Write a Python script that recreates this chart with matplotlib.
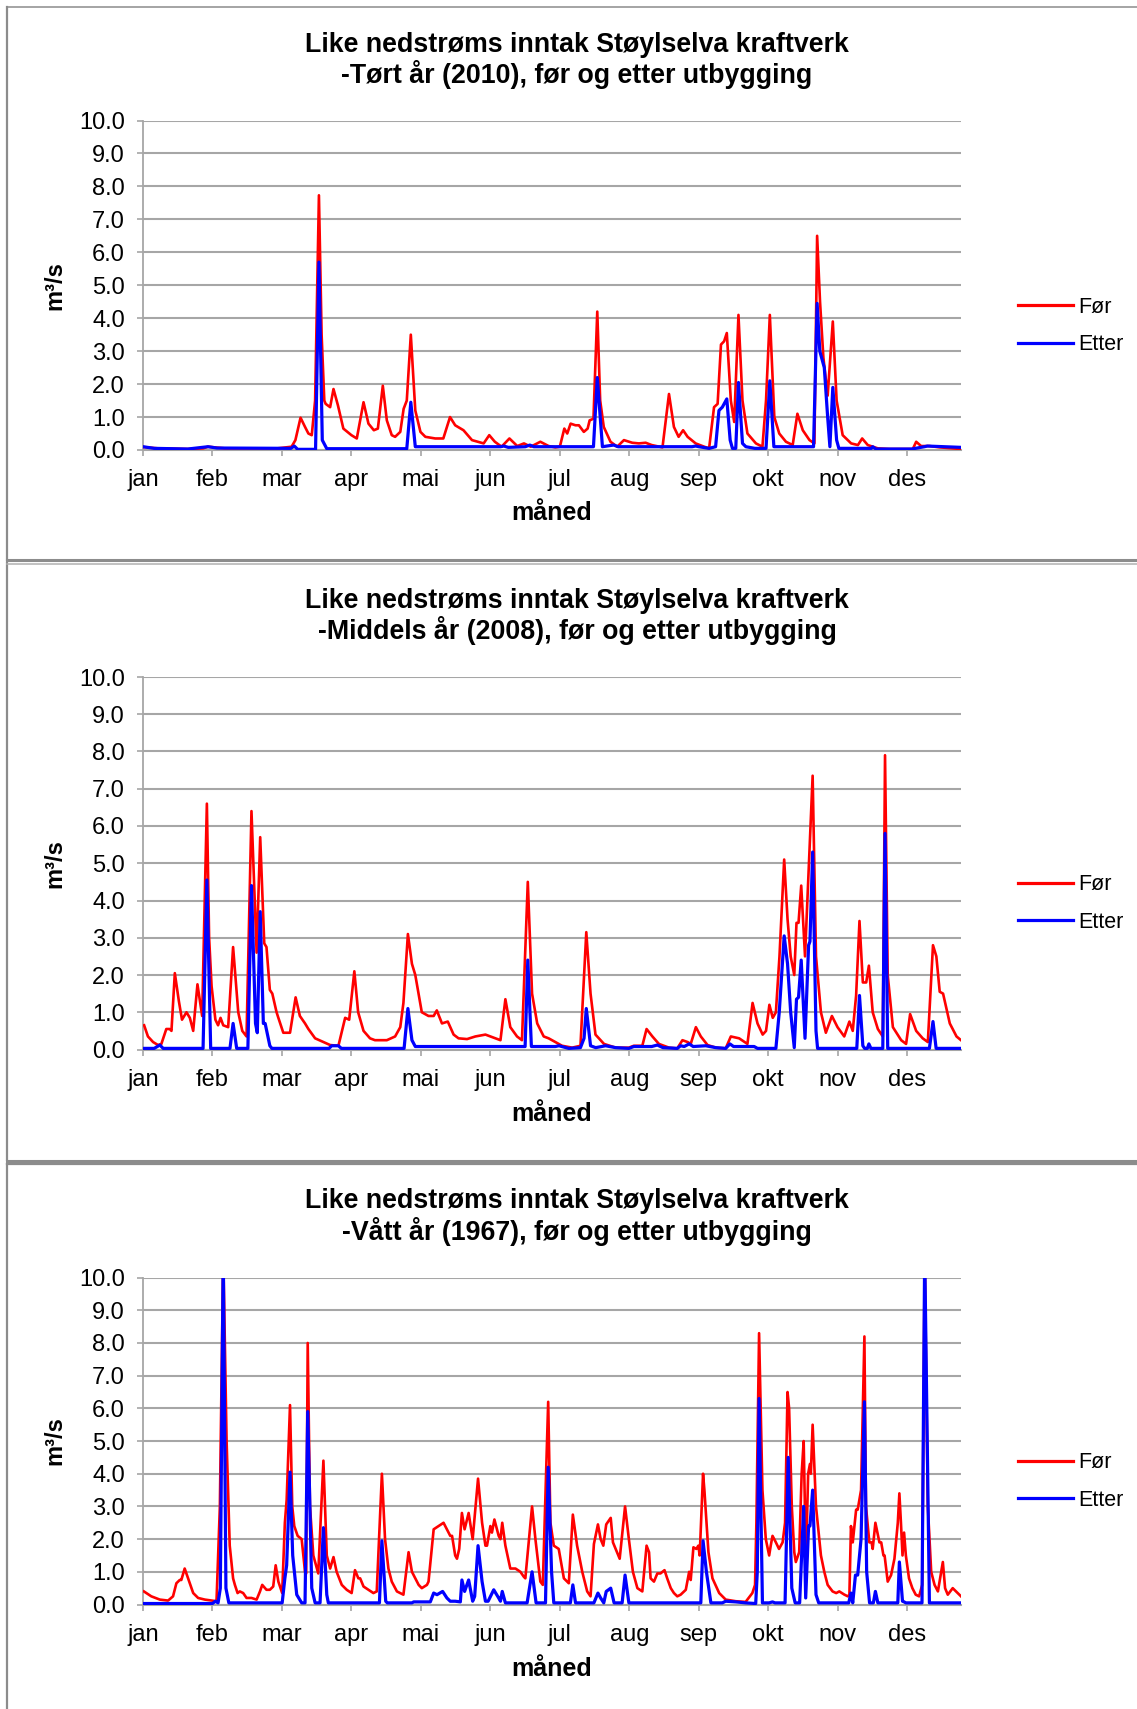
import matplotlib
matplotlib.use("Agg")
import matplotlib.pyplot as plt
from matplotlib.lines import Line2D

plt.rcParams['font.family'] = ['Liberation Sans', 'DejaVu Sans']

# ---------------- data ----------------
months = ['jan', 'feb', 'mar', 'apr', 'mai', 'jun', 'jul', 'aug', 'sep', 'okt', 'nov', 'des']
month_ticks = [0, 31, 62, 93, 124, 155, 186, 217, 248, 279, 310, 341]

titles = [
    "Like nedstrøms inntak Støylselva kraftverk\n-Tørt år (2010), før og etter utbygging",
    "Like nedstrøms inntak Støylselva kraftverk\n-Middels år (2008), før og etter utbygging",
    "Like nedstrøms inntak Støylselva kraftverk\n-Vått år (1967), før og etter utbygging",
]
series_names = ['Før', 'Etter']

# Dry year 2010 - before (day position, m3/s)
dry_for_x = [0, 6.7, 20, 26.8, 29, 32, 36.5, 60, 66.3, 68, 70.3, 72.3, 73.8, 75.3, 76.8, 78.5, 79.7, 80.9,
             81.5, 83.5, 85, 87, 89.4, 93, 95.4, 98.4, 100.6, 103, 104.8, 107, 108.8, 111, 112.5, 114.8,
             116.3, 117.7, 119.5, 121.5, 123.8, 126, 130.4, 134, 137, 139.3, 143, 146.8, 152, 154.5, 157,
             160, 163.5, 167, 170, 173, 177.3, 181, 184, 186, 188, 189.3, 190.8, 193, 194.5, 196.7, 198.4,
             199.3, 201, 202.7, 204, 205.6, 208.6, 211.6, 214.6, 218.3, 221.3, 224.3, 227, 231.8, 234.7,
             236.9, 239, 241, 243, 246.6, 250.4, 252.6, 254.8, 256.4, 257.9, 259.3, 260.5, 262.3, 263.8,
             265.7, 267.5, 269.7, 273.5, 276.4, 278, 279.7, 281.7, 283.9, 286.9, 289.9, 292, 294.4, 297.4,
             299.6, 300.8, 302.1, 303.6, 305.5, 307.8, 309.5, 312.2, 316, 319, 320.9, 323.4, 327.9, 333,
             343.5, 345, 347.2, 351, 355.5, 365]
dry_for_y = [0.09, 0.05, 0.03, 0.05, 0.1, 0.08, 0.05, 0.05, 0.1, 0.3, 0.98, 0.7, 0.5, 0.45, 1.5, 7.73, 3.5, 1.5,
             1.4, 1.3, 1.85, 1.35, 0.65, 0.45, 0.35, 1.45, 0.8, 0.6, 0.65, 1.95, 0.9, 0.45, 0.4, 0.55,
             1.25, 1.5, 3.5, 1.2, 0.55, 0.4, 0.35, 0.35, 1.0, 0.75, 0.6, 0.3, 0.2, 0.45, 0.25,
             0.1, 0.35, 0.12, 0.2, 0.1, 0.25, 0.12, 0.08, 0.1, 0.65, 0.5, 0.8, 0.75, 0.75, 0.55, 0.65,
             0.9, 0.95, 4.2, 1.5, 0.7, 0.25, 0.1, 0.3, 0.22, 0.2, 0.22, 0.15, 0.08, 1.7,
             0.7, 0.4, 0.6, 0.4, 0.2, 0.1, 0.05, 1.3, 1.4, 3.2, 3.3, 3.55, 1.5, 0.85,
             4.1, 1.5, 0.5, 0.2, 0.1, 1.5, 4.1, 1.0, 0.5, 0.25, 0.15, 1.1, 0.6, 0.3,
             0.2, 6.5, 4.5, 2.8, 1.65, 3.9, 1.5, 0.45, 0.2, 0.15, 0.35, 0.15, 0.05, 0.03,
             0.03, 0.25, 0.12, 0.12, 0.08, 0.03]

# Dry year 2010 - after
dry_etter_x = [0, 5, 20, 29, 33, 66, 67.5, 69, 77, 78.5, 80, 82, 117.7, 119.5, 121.5, 159.5, 161, 163, 170.6,
               172.6, 174.4, 201, 202.7, 205, 210, 212, 245, 246.6, 248, 252.6, 255.5, 257, 258.5, 260.5,
               262, 263, 264.5, 265.7, 267.5, 269, 273, 278, 279.7, 281.5, 299.2, 300.8, 302, 304, 305.5,
               306.5, 307.8, 309.5, 310.5, 325, 325.6, 327, 343, 348.7, 350, 365]
dry_etter_y = [0.1, 0.05, 0.03, 0.1, 0.06, 0.05, 0.12, 0.02, 0.02, 5.7, 0.3, 0.04, 0.04, 1.45, 0.1, 0.1, 0.12, 0.08, 0.1,
               0.15, 0.1, 0.1, 2.2, 0.1, 0.15, 0.1, 0.1, 0.12, 0.1, 0.05, 0.1, 1.2, 1.3, 1.55,
               0.3, 0.05, 0.05, 2.05, 0.2, 0.1, 0.05, 0.05, 2.1, 0.1, 0.1, 4.45, 3.0, 2.5, 1.0,
               0.1, 1.9, 0.3, 0.05, 0.05, 0.1, 0.03, 0.03, 0.1, 0.12, 0.08]

# Middle year 2008 - before
mid_for_x = [0.5, 2.2, 4.5, 6.7, 8.2, 10.4, 11.9, 12.7, 14.2, 16, 17.4, 19.4, 20.9, 22.4, 24.3, 26.4, 28.5, 29.5,
             30.6, 32.3, 33.5, 34.6, 35.8, 38, 40.2, 42.5, 44.3, 46.2, 48.4, 50.7, 52.3, 54.1, 55.1, 56.6,
             57.7, 59.6, 60.4, 62.6, 65.6, 68.1, 70, 72.3, 73.8, 76.8, 80.5, 83.5, 87.2, 90.2, 92, 94.3, 96,
             98.4, 101.3, 103.5, 105.8, 108.8, 112.5, 114.8, 116.2, 118.2, 120, 121.5, 124.4, 127.4, 129.7,
             131.1, 133.4, 136, 138.6, 140.8, 144.6, 148.3, 152.8, 157.2, 159.5, 161.7, 163.9, 166.9, 169.1,
             171.7, 173.6, 175.9, 178.8, 181, 184, 187, 191.5, 195.2, 197.8, 199.7, 201.9, 205.7, 210.9,
             216.8, 219, 222.8, 224.7, 227.3, 230.2, 234.7, 238.4, 240.7, 243, 244.4, 246.7, 248.9, 251.9,
             255.6, 260, 262.3, 266, 269.7, 272, 274.2, 276.5, 278, 279.5, 281, 282.4, 284, 286.1, 287.6,
             289, 290.6, 291.6, 292.5, 293.7, 295.4, 297, 298.8, 300.3, 302.5, 304.7, 307.4, 309.9, 312.9,
             315.2, 316.7, 318.2, 319.7, 321.2, 322.7, 323.9, 325.6, 327.9, 330.1, 331.1, 332.3, 334.6,
             338.3, 340.5, 342.3, 345, 347.9, 350.2, 352.5, 354, 355.5, 357, 360, 363, 365]
mid_for_y = [0.65, 0.35, 0.2, 0.12, 0.15, 0.55, 0.55, 0.5, 2.05, 1.3, 0.8, 1.0, 0.85, 0.5, 1.75, 0.9, 6.6, 3.0,
             1.7, 0.8, 0.65, 0.85, 0.65, 0.6, 2.75, 1.0, 0.5, 0.35, 6.4, 2.6, 5.7, 2.85, 2.75, 1.6,
             1.5, 1.0, 0.85, 0.45, 0.45, 1.4, 0.9, 0.7, 0.55, 0.3, 0.2, 0.12, 0.1, 0.85, 0.8, 2.1, 1.0,
             0.5, 0.3, 0.25, 0.25, 0.25, 0.35, 0.6, 1.25, 3.1, 2.3, 2.0, 1.0, 0.9, 0.9,
             1.05, 0.7, 0.75, 0.4, 0.3, 0.28, 0.35, 0.4, 0.3, 0.25, 1.35, 0.6, 0.35, 0.25,
             4.5, 1.5, 0.7, 0.35, 0.3, 0.2, 0.1, 0.05, 0.1, 3.15, 1.5, 0.4, 0.15, 0.05,
             0.05, 0.1, 0.1, 0.55, 0.35, 0.15, 0.05, 0.03, 0.25, 0.2, 0.15, 0.6, 0.35, 0.12,
             0.05, 0.03, 0.35, 0.3, 0.15, 1.25, 0.7, 0.4, 0.5, 1.2, 0.85, 1.0, 2.5, 5.1, 3.5,
             2.5, 2.0, 3.4, 3.4, 4.4, 2.5, 4.8, 7.35, 2.5, 1.0, 0.45, 0.9, 0.6, 0.35,
             0.75, 0.5, 1.45, 3.45, 1.8, 1.8, 2.25, 1.0, 0.55, 0.35, 7.9, 2.0, 0.6,
             0.25, 0.15, 0.95, 0.5, 0.3, 0.2, 2.8, 2.5, 1.55, 1.5, 0.7, 0.35, 0.25]

# Middle year 2008 - after
mid_etter_x = [0, 5, 7.5, 9, 26.8, 28.5, 30.2, 38.8, 40.2, 41.8, 46.8, 48.4, 50.2, 51, 52.3, 53.7, 54.5, 56.6,
               57.5, 83, 84.2, 87.2, 88.5, 116.5, 118.2, 120, 121.5, 170.5, 171.7, 173.3, 184, 185.6, 190,
               195.2, 196.8, 197.8, 199.7, 202, 206.4, 210.9, 216.8, 219, 227, 229.5, 232, 238.4, 239.9,
               241.5, 243.7, 245.5, 251.1, 255.6, 260, 261.9, 263.5, 272.7, 274.2, 282.4, 283.9, 286.1,
               287.6, 289, 290.6, 291.6, 292.5, 293.7, 295.4, 297, 297.6, 298.8, 300.3, 301, 318.5, 319.7,
               321.2, 322, 323.2, 323.9, 324.8, 330.1, 331.1, 332.3, 350.9, 352.5, 353.9, 365]
mid_etter_y = [0.03, 0.03, 0.12, 0.03, 0.03, 4.55, 0.03, 0.03, 0.7, 0.03, 0.03, 4.4, 0.7, 0.45, 3.7, 0.7, 0.7, 0.1,
               0.03, 0.03, 0.1, 0.1, 0.03, 0.03, 1.1, 0.25, 0.08, 0.08, 2.4, 0.08, 0.08, 0.1, 0.03,
               0.05, 0.3, 1.1, 0.1, 0.05, 0.1, 0.05, 0.03, 0.08, 0.08, 0.12, 0.05, 0.03, 0.1,
               0.08, 0.15, 0.08, 0.1, 0.05, 0.03, 0.15, 0.08, 0.08, 0.03, 0.03, 1.0, 3.05,
               2.3, 1.0, 0.05, 1.35, 1.4, 2.4, 0.3, 2.8, 2.9, 5.3, 0.5, 0.03, 0.03, 1.45,
               0.1, 0.03, 0.03, 0.15, 0.03, 0.03, 5.8, 0.03, 0.03, 0.75, 0.03, 0.03]

# Wet year 1967 - before (tops at 10.8 are cut off by the axis)
wet_for_x = [0.4, 3.7, 7.5, 11.2, 13.4, 14.9, 16.4, 17.1, 18.6, 20.1, 22.4, 24.6, 27.6, 32.8, 34.3, 35.8, 37.3,
             38.7, 40.2, 41, 42.2, 43.2, 44.7, 46.2, 48.4, 50.7, 52.2, 53.2, 55.1, 56.6, 58.1, 59.2, 60.4,
             62.1, 63.3, 64.1, 65.6, 66.6, 67.5, 69, 70.8, 72.3, 72.8, 73.5, 74.5, 76, 78.2, 80.5, 82, 83.5,
             85, 86.4, 88.7, 90.9, 93.1, 94.6, 96.1, 96.9, 98.4, 100.6, 102.8, 104.3, 106.6, 108, 109.5, 111,
             113.3, 116.2, 118.5, 120, 121.5, 123, 124.4, 126.7, 127.4, 129.7, 131.9, 134.1, 135.6, 137.1,
             137.9, 139.3, 140.1, 141.1, 142.3, 143.5, 145.3, 147.1, 149.5, 151.3, 152.8, 153.5, 155, 155.7,
             156.8, 158.7, 159.5, 160.3, 161.7, 163.9, 166.2, 168.4, 169.9, 170.6, 173.6, 175.1, 177.3,
             178.4, 180.8, 181.8, 183.3, 185.5, 187.8, 190, 191.8, 193.7, 196, 198.2, 199.7, 201.2, 203,
             204.2, 205.4, 206.7, 208.7, 209.7, 210.9, 212.7, 213.9, 215.1, 216.8, 218.6, 220.6, 222.8,
             224.7, 225.8, 226.5, 228, 229.5, 230.9, 232.7, 233.9, 235.5, 236.9, 238.4, 239.9, 242.2, 243.7,
             244.4, 245.6, 246.9, 247.8, 248.4, 249.9, 250.5, 252.3, 254.1, 257.1, 260, 264.5, 268.9, 271.9,
             273.1, 273.7, 274.9, 276.4, 277.9, 279.4, 280.1, 280.9, 282.4, 283.8, 285.4, 286.5, 287.6,
             288.3, 289.5, 290.6, 291.3, 292.8, 293.9, 294.8, 295.8, 296.8, 297.6, 298, 298.8, 300.3, 302.5,
             304, 305.5, 307.7, 309.3, 310.7, 313, 314.5, 315.2, 315.9, 316.7, 318.2, 318.9, 320.4, 321.9,
             322.6, 324.1, 325.1, 325.6, 326.8, 328.6, 329.4, 330.4, 330.9, 332.3, 333.8, 335.3, 336.8,
             337.5, 338.2, 338.9, 339.6, 340.4, 341.8, 343.3, 344.8, 346.3, 347.7, 348.8, 350.2, 351.7,
             353.2, 354.7, 356.9, 357.9, 359.1, 361.3, 362.8, 365]
wet_for_y = [0.4, 0.25, 0.15, 0.12, 0.25, 0.65, 0.75, 0.75, 1.1, 0.8, 0.35, 0.2, 0.15, 0.1, 3.0, 10.8, 5.0,
             1.8, 0.8, 0.6, 0.35, 0.4, 0.35, 0.2, 0.2, 0.15, 0.4, 0.6, 0.45, 0.45, 0.55, 1.2, 0.7,
             0.35, 2.5, 3.2, 6.1, 3.0, 2.4, 2.1, 2.0, 1.0, 0.95, 8.0, 3.0, 1.5, 0.95, 4.4, 1.5, 1.1,
             1.45, 1.0, 0.6, 0.45, 0.35, 1.05, 0.8, 0.8, 0.55, 0.45, 0.35, 0.4, 4.0, 2.0, 1.1, 0.7,
             0.4, 0.3, 1.6, 1.0, 0.8, 0.6, 0.5, 0.6, 0.7, 2.3, 2.4, 2.5, 2.3, 2.1,
             2.1, 1.5, 1.4, 1.7, 2.8, 2.3, 2.8, 2.0, 3.85, 2.5, 1.8, 1.8, 2.4, 2.2,
             2.6, 2.1, 2.0, 2.5, 1.8, 1.1, 1.1, 1.0, 0.85, 0.8, 3.0, 2.0, 0.7,
             0.6, 6.2, 2.5, 1.8, 1.7, 0.8, 0.65, 2.75, 1.8, 1.0, 0.4, 0.25, 1.85, 2.45,
             2.0, 1.8, 2.45, 2.65, 1.9, 1.7, 1.4, 2.2, 3.0, 2.0, 1.0, 0.5, 0.4,
             1.8, 1.6, 0.8, 0.7, 0.95, 0.95, 1.05, 0.8, 0.5, 0.35, 0.25, 0.3, 0.45, 1.0,
             0.75, 1.75, 1.7, 1.8, 1.5, 4.0, 3.5, 1.6, 0.8, 0.35, 0.15, 0.1, 0.08, 0.35,
             0.6, 2.5, 8.3, 3.5, 2.0, 1.5, 1.8, 2.1, 1.9, 1.7, 1.9, 2.5, 6.5,
             6.0, 3.0, 1.6, 1.3, 1.6, 4.0, 5.0, 1.3, 4.0, 4.3, 4.0, 5.5, 3.0, 1.5,
             1.0, 0.6, 0.4, 0.35, 0.4, 0.3, 0.25, 0.3, 2.4, 1.9, 2.9, 2.9, 3.5, 8.2,
             3.0, 1.9, 1.9, 1.7, 2.5, 1.9, 1.9, 1.5, 1.5, 0.7, 0.9, 1.4, 2.5,
             3.4, 2.5, 1.5, 2.2, 1.5, 0.8, 0.5, 0.3, 0.25, 0.6, 10.8, 3.0, 1.0,
             0.6, 0.4, 1.3, 0.5, 0.3, 0.5, 0.4, 0.25]

# Wet year 1967 - after
wet_etter_x = [0, 31, 32.3, 33.5, 34.5, 35.8, 37, 38.3, 62.1, 63.3, 64.1, 65.6, 66.8, 68.6, 70.8, 72.3, 73.5,
               75.3, 76.8, 79, 80.5, 82, 82.7, 105.5, 106.6, 108.3, 109, 120, 120.8, 128.2, 129.7, 131.2,
               133.7, 135.6, 137.1, 139.3, 141.6, 142.3, 143.5, 145.3, 147.1, 148, 149.5, 151.3, 152.8, 154,
               156.5, 158.7, 159.5, 160.3, 161.7, 171.4, 173.6, 175.4, 179.6, 180.8, 182.3, 183.3, 190.7,
               191.8, 193, 201.2, 203, 204.2, 205.6, 206.7, 208.7, 210.2, 213.8, 215.1, 216.8, 248.9, 249.9,
               251.4, 253.4, 258.5, 260, 264.5, 268.9, 273.4, 274.1, 274.9, 276.4, 279.4, 280.9, 282, 286.5,
               287.9, 289.5, 291, 293, 294.8, 295.7, 297, 297.6, 298.8, 300.3, 301.5, 314.9, 315.9, 316.7,
               317.9, 318.9, 320.4, 321.9, 322.9, 324.2, 325.9, 326.8, 327.9, 336.8, 337.5, 338.9, 339.6,
               340.4, 347.6, 348.8, 350.9, 365]
wet_etter_y = [0.03, 0.03, 0.1, 0.05, 0.5, 10.8, 0.5, 0.05, 0.05, 0.8, 1.2, 4.05, 1.5, 0.3, 0.05, 0.05, 5.9,
               0.5, 0.05, 0.05, 2.35, 0.3, 0.05, 0.05, 1.95, 0.1, 0.05, 0.05, 0.08, 0.08, 0.35, 0.3,
               0.4, 0.2, 0.1, 0.1, 0.08, 0.75, 0.4, 0.75, 0.1, 0.25, 1.8, 0.7, 0.1, 0.1,
               0.45, 0.2, 0.1, 0.4, 0.05, 0.05, 1.0, 0.05, 0.05, 4.2, 1.0, 0.05, 0.05,
               0.6, 0.05, 0.05, 0.35, 0.2, 0.05, 0.4, 0.5, 0.05, 0.05, 0.9, 0.05, 0.05, 1.95,
               1.0, 0.05, 0.05, 0.1, 0.08, 0.05, 0.03, 1.0, 6.3, 0.05, 0.05, 0.08, 0.05, 0.05,
               4.5, 0.5, 0.05, 0.05, 3.0, 0.2, 2.4, 2.4, 3.5, 0.3, 0.05, 0.05, 0.35, 0.05,
               0.9, 0.9, 2.0, 6.2, 1.0, 0.05, 0.05, 0.4, 0.05, 0.05, 1.3, 0.1, 0.08,
               0.05, 0.05, 10.8, 0.05, 0.05]

panels = [
    (dry_for_x, dry_for_y, dry_etter_x, dry_etter_y),
    (mid_for_x, mid_for_y, mid_etter_x, mid_etter_y),
    (wet_for_x, wet_for_y, wet_etter_x, wet_etter_y),
]

# ---------------- layout (pixels of the 1137x1709 canvas) ----------------
W, H = 1137, 1709
fig = plt.figure(figsize=(W / 100, H / 100), dpi=100)
fig.patch.set_facecolor('white')

ax_left, ax_right = 143, 961
ax_tb = [(120.5, 450), (677, 1049.5), (1277.6, 1604.5)]       # top, bottom of each plot area
title_y = [60.5, 616.5, 1217]
xlabel_y = [513.5, 1114, 1669]
legend_y = [326, 903.5, 1481.5]

grid_col = '#a6a6a6'
for i, (fx, fy, ex, ey) in enumerate(panels):
    top, bot = ax_tb[i]
    ax = fig.add_axes([ax_left / W, 1 - bot / H, (ax_right - ax_left) / W, (bot - top) / H])
    hgt = bot - top
    ax.plot(fx, fy, color='#ff0000', lw=1.9, label=series_names[0], zorder=3, solid_joinstyle='round')
    ax.plot(ex, ey, color='#0000ff', lw=2.3, label=series_names[1], zorder=4, solid_joinstyle='round')
    ax.set_xlim(0, 365)
    ax.set_ylim(0, 10)
    ax.set_yticks([float(v) for v in range(11)])
    ax.set_yticklabels([f"{v:.1f}" for v in range(11)])
    ax.set_xticks(month_ticks)
    ax.set_xticklabels(months)
    ax.grid(axis='y', color=grid_col, lw=1.5, zorder=1)
    ax.set_axisbelow(True)
    for s in ['top', 'right']:
        ax.spines[s].set_visible(False)
    ax.spines['left'].set_color(grid_col)
    ax.spines['left'].set_linewidth(1.3)
    ax.spines['bottom'].set_color(grid_col)
    ax.spines['bottom'].set_linewidth(1.5)
    ax.tick_params(axis='both', colors=grid_col, labelcolor='black', labelsize=17, length=4, width=1.2)
    ax.tick_params(axis='x', pad=10)
    ax.tick_params(axis='y', pad=9)

    ax.set_ylabel('m³/s', fontsize=17, fontweight='bold')
    ax.yaxis.label.set_va('center')
    ax.yaxis.set_label_coords((55 - ax_left) / (ax_right - ax_left), 0.5)
    ax.set_xlabel('måned', fontsize=18, fontweight='bold')
    ax.xaxis.label.set_va('center')
    ax.xaxis.set_label_coords(0.5, (bot - xlabel_y[i]) / hgt)

    ax.text((577 - ax_left) / (ax_right - ax_left), (bot - title_y[i]) / hgt, titles[i],
            transform=ax.transAxes, ha='center', va='center', fontsize=19.3, fontweight='bold',
            linespacing=1.1)

    leg = ax.legend(loc='center left', bbox_to_anchor=((1018 - ax_left) / (ax_right - ax_left),
                                                       (bot - legend_y[i]) / hgt),
                    frameon=False, fontsize=15.5, borderpad=0, borderaxespad=0,
                    handlelength=2.55, handletextpad=0.25, labelspacing=0.75)
    for h in leg.get_lines():
        h.set_linewidth(2.3)

# ---------------- panel frames ----------------
ov = fig.add_axes([0, 0, 1, 1], zorder=-5)
ov.set_xlim(0, W)
ov.set_ylim(H, 0)
ov.axis('off')
frame_col = '#8c8c8c'
ov.add_line(Line2D([7, 7], [7, 560], color=frame_col, lw=1.6))
ov.add_line(Line2D([7, W], [7, 7], color=frame_col, lw=1.1))
ov.add_line(Line2D([7, W], [559.5, 559.5], color=frame_col, lw=2.2))
ov.add_line(Line2D([7, 7], [563, 1160], color=frame_col, lw=1.6))
ov.add_line(Line2D([7, W], [563.5, 563.5], color='#b0b0b0', lw=1.1))
ov.add_line(Line2D([7, W], [1160.5, 1160.5], color=frame_col, lw=2.2))
ov.add_line(Line2D([7, 7], [1163.5, H], color=frame_col, lw=1.6))
ov.add_line(Line2D([7, W], [1163.5, 1163.5], color=frame_col, lw=1.6))

fig.savefig('out.png', dpi=100, facecolor='white')
